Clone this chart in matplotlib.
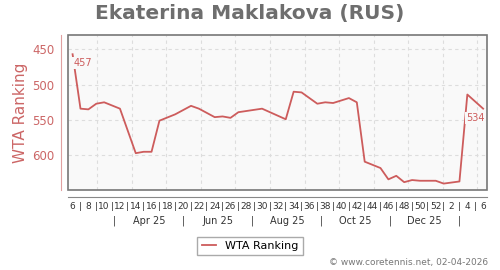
import numpy as np
import matplotlib
matplotlib.use("Agg")
import matplotlib.pyplot as plt
import matplotlib.dates as mdates
import matplotlib.transforms as mtransforms
from matplotlib.patches import Rectangle
import datetime as dt

# weekly WTA ranking, week 6 2025 -> week 6 2026 (offsets in weeks)
week_offset = [0, 1, 2, 3, 4, 6, 8, 9, 10, 11, 13, 15, 16, 18, 19, 20, 21, 24, 27,
               28, 29, 31, 32, 33, 35, 36, 37, 39, 40, 41, 42, 43, 44, 46, 47, 49, 50, 52]
ranking = [457, 534, 535, 527, 525, 534, 597, 595, 595, 551, 542, 530, 534, 546, 545, 547, 539, 534, 549,
           510, 511, 527, 525, 526, 519, 525, 609, 618, 634, 629, 638, 635, 636, 636, 640, 637, 514, 534]

week_labels = ['6', '8', '10', '12', '14', '16', '18', '20', '22', '24', '26', '28', '30',
               '32', '34', '36', '38', '40', '42', '44', '46', '48', '50', '52', '2', '4', '6']
month_labels = ['Apr 25', 'Jun 25', 'Aug 25', 'Oct 25', 'Dec 25']
y_ticks = [450, 500, 550, 600]

start = dt.date(2025, 2, 7)
dates = [start + dt.timedelta(days=7 * w) for w in week_offset]

red = '#cd5c5c'
lab_red = '#cc6666'
grey = '#777777'

fig = plt.figure(figsize=(5, 2.7), dpi=100)
ax = fig.add_axes([68.3 / 500, 1 - 190.3 / 270, 419 / 500, 155 / 270])
ax.set_facecolor('#f9f9f9')

ax.plot(dates, ranking, color=red, lw=1.3, zorder=3)

x0 = mdates.date2num(start)
ax.set_xlim(x0 - 3.8, x0 + 367.7)
ax.set_ylim(649.5, 430.2)

# grid: horizontal at ticks, vertical at month starts
ax.set_yticks(y_ticks)
for y in y_ticks:
    ax.axhline(y, color='#dddddd', lw=0.8, ls=(0, (3, 3)), zorder=1)
for m in range(3, 15):
    yy, mm = 2025 + (m - 1) // 12, (m - 1) % 12 + 1
    ax.axvline(mdates.date2num(dt.date(yy, mm, 1)), color='#dddddd', lw=0.8, ls=(0, (3, 3)), zorder=1)

# x ticks: even weeks labelled, odd weeks as separators
major = [x0 + 14 * i for i in range(len(week_labels))]
minor = [x0 + 7 + 14 * i for i in range(len(week_labels) - 1)]
ax.set_xticks(major)
ax.set_xticklabels(week_labels)
ax.set_xticks(minor, minor=True)
ax.set_xticklabels(['|'] * len(minor), minor=True)
ax.tick_params(axis='x', which='both', length=0, pad=3.5, labelsize=6.5, colors='#333333')
ax.tick_params(axis='y', length=0, pad=5, labelsize=8.5, colors=lab_red)

for s in ['top', 'right']:
    ax.spines[s].set_visible(False)
ax.spines['left'].set_position(('outward', 5))
ax.spines['left'].set_color('#e0a0a0')
ax.spines['bottom'].set_position(('outward', 5))
ax.spines['bottom'].set_color('#888888')
ax.add_patch(Rectangle((0, 0), 1, 1, transform=ax.transAxes, fill=False,
                       edgecolor=grey, lw=1.2, clip_on=False, zorder=5))

# month row
trans = mtransforms.blended_transform_factory(ax.transData, ax.transAxes)
for i, lab in enumerate(month_labels):
    m = 4 + 2 * i
    ax.text(mdates.date2num(dt.date(2025, m, 16)), -0.196, lab, transform=trans,
            ha='center', va='center', fontsize=7, color='#333333')
for m in [3, 5, 7, 9, 11, 13]:
    yy, mm = 2025 + (m - 1) // 12, (m - 1) % 12 + 1
    ax.text(mdates.date2num(dt.date(yy, mm, 16)), -0.196, '|', transform=trans,
            ha='center', va='center', fontsize=7, color='#333333')

# end labels
ax.annotate(str(ranking[0]), (dates[0], ranking[0]), xytext=(10, -9), textcoords='offset pixels',
            ha='center', va='center', fontsize=7, color=red, zorder=4,
            bbox=dict(boxstyle='square,pad=0.1', fc='#f9f9f9', ec='none'))
ax.annotate(str(ranking[-1]), (dates[-1], ranking[-1]), xytext=(-8, -9), textcoords='offset pixels',
            ha='center', va='center', fontsize=7, color=red, zorder=4,
            bbox=dict(boxstyle='square,pad=0.1', fc='#f9f9f9', ec='none'))

ax.set_ylabel('WTA Ranking', fontsize=11, color=lab_red)
ax.yaxis.set_label_coords(-(68.3 - 28) / 419, 0.5)
fig.suptitle('Ekaterina Maklakova (RUS)', x=0.5, y=1 - 13 / 270, va='center',
             fontsize=14.5, fontweight='bold', color='#6e6e6e')

fig.legend(handles=ax.lines[:1], labels=['WTA Ranking'], loc='center',
           bbox_to_anchor=(0.5, 1 - 246 / 270), fontsize=8, fancybox=False,
           edgecolor='#aaaaaa', handlelength=1.3, borderpad=0.4, framealpha=1)
fig.text(488 / 500, 1 - 262.7 / 270, '\u00a9 www.coretennis.net, 02-04-2026', ha='right', va='center',
         fontsize=6.5, color='#777777')

fig.savefig('out.png', dpi=100)
